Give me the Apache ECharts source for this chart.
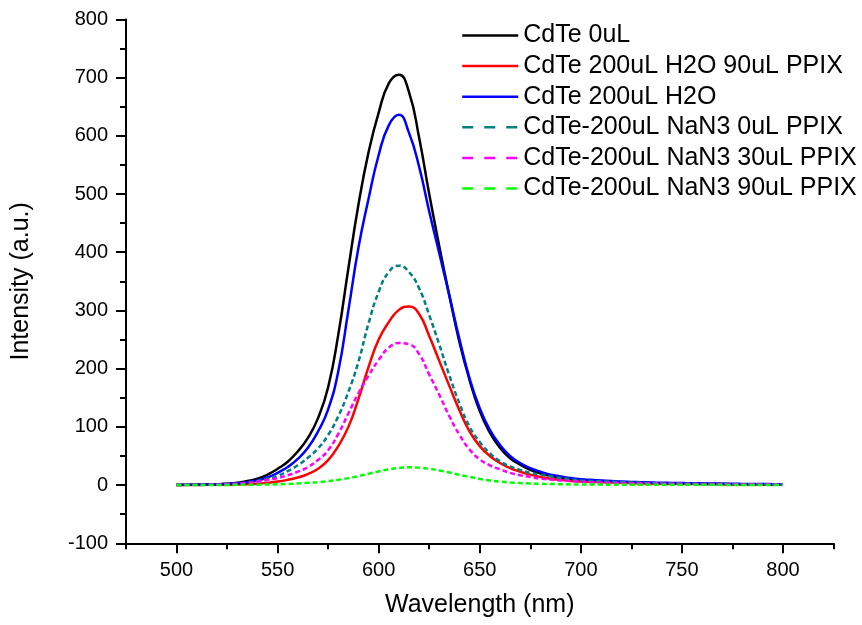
<!DOCTYPE html>
<html>
<head>
<meta charset="utf-8">
<title>CdTe photoluminescence spectra</title>
<script src="https://cdn.jsdelivr.net/npm/echarts@6/dist/echarts.min.js"></script>
<style>
  html, body { margin: 0; padding: 0; background: #fff; }
  #chart { width: 862px; height: 625px; }
</style>
</head>
<body>
<div id="chart"></div>
<script>
// Emission wavelengths (nm), 5 nm steps, shared by all spectra
const wavelengths = [
  500, 505, 510, 515, 520, 525, 530, 535, 540, 545,
  550, 555, 560, 565, 570, 575, 580, 585, 590, 595,
  600, 605, 610, 615, 620, 625, 630, 635, 640, 645,
  650, 655, 660, 665, 670, 675, 680, 685, 690, 695,
  700, 705, 710, 715, 720, 725, 730, 735, 740, 745,
  750, 755, 760, 765, 770, 775, 780, 785, 790, 795,
  800
];

// Intensities (a.u.)
const cdte0 = [
  0.5, 0.6, 0.8, 1.1, 1.5, 2.5, 4, 7, 11, 18,
  28, 40, 58, 81, 115, 168, 258, 372, 482, 572,
  640, 690, 705, 675, 597, 500, 410, 325, 245, 180,
  127, 90, 64, 46, 35, 26, 20, 16, 13, 11,
  9, 8, 7, 6, 5, 4.5, 4, 3.5, 3, 2.8,
  2.5, 2.3, 2, 1.9, 1.8, 1.6, 1.5, 1.3, 1.2, 1.1,
  1
];
const h2o90ppix = [
  0.2, 0.25, 0.3, 0.4, 0.5, 0.7, 1, 1.6, 2.5, 4,
  6, 9, 13, 19, 28, 43, 67, 100, 148, 203,
  250, 280, 301, 307, 294, 256, 213, 170, 128, 92,
  67, 50, 38, 29, 23, 18, 14, 11, 9, 7,
  6, 5.5, 5, 4.5, 4, 3.5, 3, 2.8, 2.5, 2.3,
  2.1, 2, 1.9, 1.8, 1.6, 1.5, 1.4, 1.3, 1.2, 1.1,
  1
];
const h2o = [
  0.3, 0.4, 0.6, 0.9, 1.2, 2, 3, 5, 8, 13,
  21, 31, 45, 64, 92, 130, 195, 300, 408, 492,
  567, 618, 636, 605, 547, 470, 398, 325, 250, 183,
  132, 95, 69, 50, 38, 29, 23, 18, 15, 12,
  10, 9, 8, 7, 6, 5.5, 5, 4.5, 4, 3.7,
  3.4, 3.1, 3, 2.7, 2.5, 2.3, 2, 1.9, 1.8, 1.6,
  1.5
];
const nan3ppix0 = [
  0.3, 0.4, 0.5, 0.7, 1, 1.6, 2.5, 4.5, 7, 11,
  16, 24, 34, 47, 63, 86, 118, 160, 212, 278,
  332, 366, 377, 366, 338, 292, 241, 188, 140, 100,
  74, 55, 41, 32, 26, 21, 18, 15, 12, 10,
  8, 7, 6.5, 6, 5, 4.5, 4, 3.5, 3, 2.8,
  2.5, 2.3, 2, 1.9, 1.8, 1.6, 1.5, 1.3, 1.2, 1.1,
  1
];
const nan3ppix30 = [
  0.3, 0.4, 0.5, 0.7, 1, 1.6, 2.5, 4, 6, 9,
  12, 17, 23, 31, 43, 60, 88, 123, 158, 188,
  215, 236, 244, 242, 225, 190, 155, 118, 86, 61,
  44, 34, 27, 21, 17, 14, 11, 9.5, 8, 7,
  6, 5, 4.5, 4, 3.5, 3.2, 3, 2.8, 2.5, 2.3,
  2.1, 2, 1.9, 1.8, 1.6, 1.5, 1.4, 1.3, 1.2, 1.1,
  1
];
const nan3ppix90 = [
  0, 0.05, 0.1, 0.15, 0.2, 0.3, 0.4, 0.5, 0.7, 1,
  1.4, 2, 2.8, 3.8, 5, 6.8, 9, 12, 15.5, 19.5,
  23.5, 27, 29.5, 30.5, 30, 28, 25, 21.5, 17.5, 14,
  10.5, 8, 6, 4.5, 3.5, 2.8, 2.2, 1.8, 1.5, 1.2,
  1, 0.9, 0.8, 0.75, 0.7, 0.65, 0.6, 0.55, 0.5, 0.5,
  0.45, 0.45, 0.4, 0.4, 0.35, 0.35, 0.3, 0.3, 0.3, 0.3,
  0.3
];

const seriesNames = [
  'CdTe 0uL',
  'CdTe 200uL H2O 90uL PPIX',
  'CdTe 200uL H2O',
  'CdTe-200uL NaN3 0uL PPIX',
  'CdTe-200uL NaN3 30uL PPIX',
  'CdTe-200uL NaN3 90uL PPIX'
];
const seriesValues = [cdte0, h2o90ppix, h2o, nan3ppix0, nan3ppix30, nan3ppix90];
const seriesColors = ['#000000', '#ff0000', '#0000ff', '#008080', '#ff00ff', '#00ff00'];
const seriesDashed = [false, false, false, true, true, true];

// Axis ticks
const xMajorTicks = [500, 550, 600, 650, 700, 750, 800];

const FONT = '"Liberation Sans", Arial, Helvetica, sans-serif';

const chart = echarts.init(document.getElementById('chart'), null, { renderer: 'canvas' });

const series = seriesNames.map((name, i) => ({
  name,
  type: 'line',
  xAxisIndex: 0,
  yAxisIndex: 0,
  data: wavelengths.map((w, k) => [w, seriesValues[i][k]]),
  smooth: 0.5,
  symbol: 'none',
  showSymbol: false,
  lineStyle: {
    color: seriesColors[i],
    width: 2.5,
    type: seriesDashed[i] ? [5, 3] : 'solid'
  },
  itemStyle: { color: seriesColors[i] },
  emphasis: { disabled: true }
}));

chart.setOption({
  animation: false,
  backgroundColor: '#ffffff',
  grid: { left: 126, top: 19.4, width: 707.5, height: 523.9, containLabel: false },
  legend: {
    orient: 'vertical',
    left: 461,
    top: 23,
    padding: 0,
    itemWidth: 56,
    itemHeight: 14,
    itemGap: 5.6,
    selectedMode: false,
    itemStyle: { opacity: 0 },
    textStyle: { fontFamily: FONT, fontSize: 25, color: '#000' },
    data: seriesNames.map((name, i) => ({
      name,
      lineStyle: seriesDashed[i] ? { type: [11, 11], width: 2.5 } : { type: 'solid', width: 2.5 }
    }))
  },
  xAxis: [
    {
      // minor ticks every 25 nm along the bottom
      type: 'value', min: 475, max: 825, interval: 25, position: 'bottom',
      axisLine: { show: true, onZero: false, lineStyle: { color: '#000', width: 2 } },
      axisTick: { show: true, length: 6, lineStyle: { color: '#000', width: 2 } },
      axisLabel: { show: false },
      splitLine: { show: false }
    },
    {
      // major ticks and labels
      type: 'value', min: 475, max: 825, position: 'bottom',
      axisLine: { show: false, onZero: false },
      axisTick: { show: true, length: 10, customValues: xMajorTicks, lineStyle: { color: '#000', width: 2 } },
      axisLabel: { show: true, customValues: xMajorTicks, margin: 17, fontFamily: FONT, fontSize: 20, color: '#000' },
      splitLine: { show: false },
      name: 'Wavelength (nm)',
      nameLocation: 'middle',
      nameGap: 49,
      nameTextStyle: { fontFamily: FONT, fontSize: 25, color: '#000' }
    }
  ],
  yAxis: {
    type: 'value', min: -100, max: 800, interval: 100,
    axisLine: { show: true, onZero: false, lineStyle: { color: '#000', width: 2 } },
    axisTick: { show: true, length: 10, lineStyle: { color: '#000', width: 2 } },
    minorTick: { show: true, splitNumber: 2, length: 6, lineStyle: { color: '#000', width: 2 } },
    axisLabel: { margin: 18, fontFamily: FONT, fontSize: 20, color: '#000' },
    splitLine: { show: false },
    minorSplitLine: { show: false },
    name: 'Intensity (a.u.)',
    nameLocation: 'middle',
    nameGap: 92,
    nameTextStyle: { fontFamily: FONT, fontSize: 25, color: '#000' }
  },
  series
});
</script>
</body>
</html>
